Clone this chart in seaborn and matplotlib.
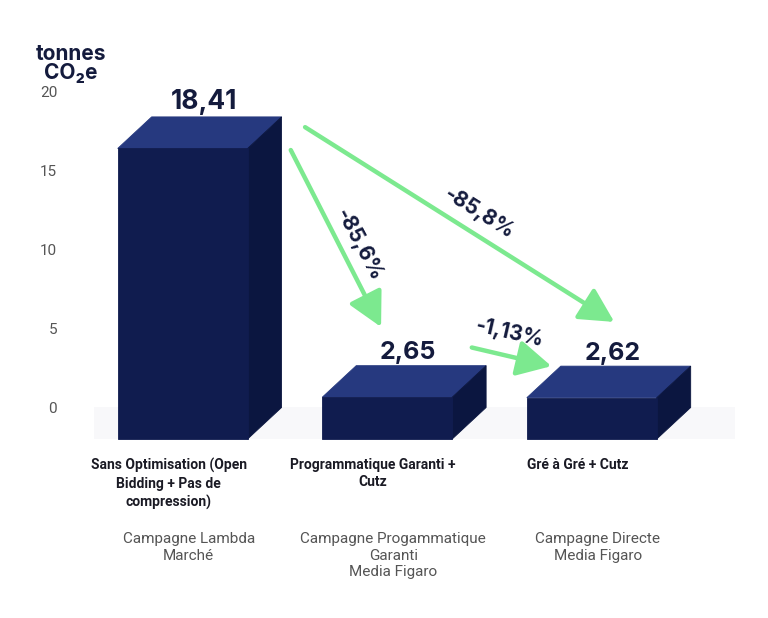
import matplotlib
matplotlib.use("Agg")
import matplotlib.pyplot as plt
import matplotlib.transforms as mtransforms
from matplotlib.patches import Polygon
import seaborn as sns
import numpy as np
import pandas as pd

# Données du graphique
categories = ["Sans Optimisation (Open\nBidding + Pas de\ncompression)",
              "Programmatique Garanti +\nCutz",
              "Gré à Gré + Cutz"]
sous_titres = ["Campagne Lambda\nMarché",
               "Campagne Progammatique\nGaranti\nMedia Figaro",
               "Campagne Directe\nMedia Figaro"]
valeurs = [18.41, 2.65, 2.62]
etiquettes_valeurs = ["18,41", "2,65", "2,62"]
variations = ["-85,6%", "-85,8%", "-1,13%"]
y_ticks = [0, 5, 10, 15, 20]

# Couleurs
bleu_face = "#101c4f"
bleu_dessus = "#26397f"
bleu_cote = "#0b1640"
vert = "#7ce98f"
texte = "#141b3d"

# Profondeur de l'effet 3D
prof_y = 2.0
prof_x = 0.166

sns.set_style("white")
plt.rcParams['font.family'] = ['Inter', 'DejaVu Sans']

df = pd.DataFrame({"cat": categories, "val": valeurs})

fig = plt.figure(figsize=(7.68, 6.18), dpi=100)
ax = fig.add_axes([0.078, 0.264, 0.879, 0.613])

sns.barplot(data=df, x="cat", y="val", color=bleu_face, saturation=1,
            width=0.635, bottom=-prof_y, linewidth=0.6, edgecolor=bleu_face,
            ax=ax, zorder=3.2)
barres = list(ax.patches)

ax.set_xlim(-0.6, 2.7)
ax.set_ylim(-3, 21)

# sol légèrement grisé
ax.axhspan(-prof_y, 0, xmin=0.05, xmax=1.0, color="#f8f8fa", zorder=0, lw=0)

# faces du dessus et du côté, calculées à partir des barres
coins = []
for i, p in enumerate(barres):
    x0 = p.get_x()
    x1 = x0 + p.get_width()
    y0 = p.get_y()
    y1 = y0 + p.get_height()
    dessus = Polygon([(x0, y1), (x1, y1), (x1 + prof_x, y1 + prof_y), (x0 + prof_x, y1 + prof_y)],
                     closed=True, facecolor=bleu_dessus, edgecolor=bleu_dessus, lw=0.6, zorder=3)
    cote = Polygon([(x1, y0), (x1, y1), (x1 + prof_x, y1 + prof_y), (x1 + prof_x, y0 + prof_y)],
                   closed=True, facecolor=bleu_cote, edgecolor=bleu_cote, lw=0.6, zorder=3.1)
    ax.add_patch(dessus)
    ax.add_patch(cote)
    coins.append((x0, x1, y0, y1))
    cx = (x0 + x1) / 2 + prof_x / 2
    ax.text(cx + 0.02, y1 + prof_y + 0.1, etiquettes_valeurs[i], ha="center", va="bottom",
            fontsize=19 if i == 0 else 18, fontweight="bold", color=texte, zorder=5)

# flèches vertes
x0a, x1a, y0a, y1a = coins[0]
x0b, x1b, y0b, y1b = coins[1]
x0c, x1c, y0c, y1c = coins[2]

fleches = [
    ((x1a + prof_x + 0.045, y1a - 0.1), ((x0b + x1b) / 2 - 0.03, y1b + prof_y + 2.45)),
    ((x1a + prof_x + 0.115, y1a + 1.35), ((x0c + x1c) / 2 + 0.11, y1c + prof_y + 2.8)),
    ((x1b + prof_x - 0.07, y1b + prof_y + 1.15), (x0c + 0.12, y1c + prof_y)),
]
for (depart, arrivee) in fleches:
    ax.annotate("", xy=arrivee, xytext=depart,
                arrowprops=dict(arrowstyle="-|>,head_length=0.95,head_width=0.5",
                                color=vert, lw=3.2, shrinkA=0, shrinkB=0,
                                mutation_scale=22), zorder=4)

pos_var = [(0.86, 10.3, -62), (1.45, 12.3, -32), (1.60, 4.7, -13)]
for lab, (px, py, rot) in zip(variations, pos_var):
    ax.text(px, py, lab, ha="center", va="center", rotation=rot,
            rotation_mode="anchor", fontsize=15, fontweight="bold", color=texte, zorder=5)

# axes
sns.despine(ax=ax, left=True, bottom=True)
ax.set_yticks(y_ticks)
ax.set_yticklabels([str(t) for t in y_ticks], color="#555555", fontsize=11,
                   family=["Roboto", "DejaVu Sans"])
ax.tick_params(axis="y", length=0, pad=2)
ax.tick_params(axis="x", length=0, pad=2)
ax.set_xlabel("")
ax.set_ylabel("")
decal = mtransforms.ScaledTranslation(-14 / 100, 0, fig.dpi_scale_trans)
for t in ax.get_xticklabels():
    t.set_fontsize(10)
    t.set_fontweight("bold")
    t.set_color("#1a1a24")
    t.set_family(["Roboto", "DejaVu Sans"])
    t.set_linespacing(1.35)
    t.set_transform(t.get_transform() + decal)

# sous-titres gris
for i, st in enumerate(sous_titres):
    ax.annotate(st, xy=(i, 0), xycoords=("data", "axes fraction"),
                xytext=(6, -77), textcoords="offset pixels",
                ha="center", va="top", fontsize=11, color="#555555",
                family=["Roboto", "DejaVu Sans"], linespacing=1.25)

# titre de l'axe
fig.text(0.092, 0.897, "tonnes\nCO₂e", ha="center", va="center", fontsize=15,
         fontweight="bold", color=texte, linespacing=0.95)

fig.savefig("out.png", dpi=100)
